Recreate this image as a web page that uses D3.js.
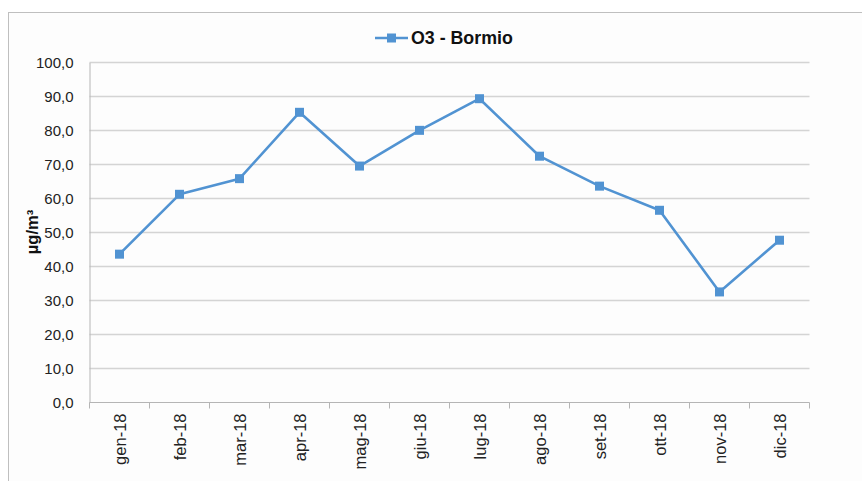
<!DOCTYPE html>
<html>
<head>
<meta charset="utf-8">
<script src="https://cdn.jsdelivr.net/npm/d3@7"></script>
<style>
  html, body { margin: 0; padding: 0; background: #ffffff; }
  svg { display: block; }
</style>
</head>
<body>
<svg id="chart" width="862" height="481"></svg>
<script>
// Monthly mean ozone, Bormio station, 2018
const months = ["gen-18", "feb-18", "mar-18", "apr-18", "mag-18", "giu-18",
                "lug-18", "ago-18", "set-18", "ott-18", "nov-18", "dic-18"];
const o3Bormio = [43.6, 61.2, 65.8, 85.3, 69.5, 80.0, 89.3, 72.4, 63.6, 56.5, 32.5, 47.7];
const yTicks = [0, 10, 20, 30, 40, 50, 60, 70, 80, 90, 100];
const seriesName = "O3 - Bormio";
const yTitle = "µg/m³";

const svg = d3.select("#chart");
const color = "#5193d2";
const font = "'Liberation Sans', Arial, sans-serif";

// chart frame
svg.append("rect")
  .attr("x", 8.5).attr("y", 12.5)
  .attr("width", 870).attr("height", 500)
  .attr("fill", "#fdfdfd")
  .attr("stroke", "#bfbfbf").attr("stroke-width", 1);

const plot = { left: 89.5, right: 809.5, top: 62.3, bottom: 402.5 };

const x = d3.scaleBand().domain(months).range([plot.left, plot.right]);
const y = d3.scaleLinear().domain([0, 100]).range([plot.bottom, plot.top]);

// horizontal gridlines
svg.append("g")
  .selectAll("line")
  .data(yTicks.filter(d => d > 0))
  .join("line")
  .attr("x1", plot.left).attr("x2", plot.right)
  .attr("y1", d => Math.round(y(d)) + 0.5).attr("y2", d => Math.round(y(d)) + 0.5)
  .attr("stroke", "#d4d4d4").attr("stroke-width", 1.3);

// y axis
const yAxis = svg.append("g")
  .attr("transform", `translate(${plot.left},0)`)
  .call(d3.axisLeft(y).tickValues(yTicks).tickSize(0).tickPadding(16)
    .tickFormat(d => d3.format(".1f")(d).replace(".", ",")));
yAxis.select(".domain").attr("stroke", "#b5b5b5").attr("stroke-width", 1);
yAxis.selectAll("text")
  .attr("font-family", font).attr("font-size", 15).attr("fill", "#222");

// x axis with ticks at category boundaries
const xAxisG = svg.append("g")
  .attr("transform", `translate(0,${plot.bottom})`);
xAxisG.append("line")
  .attr("x1", plot.left).attr("x2", plot.right)
  .attr("y1", 0).attr("y2", 0)
  .attr("stroke", "#b5b5b5");
xAxisG.selectAll("line.tick")
  .data(months.concat(["__end"]))
  .join("line")
  .attr("class", "tick")
  .attr("x1", (d, i) => plot.left + i * x.bandwidth())
  .attr("x2", (d, i) => plot.left + i * x.bandwidth())
  .attr("y1", 0).attr("y2", 6)
  .attr("stroke", "#b5b5b5");
xAxisG.selectAll("text")
  .data(months)
  .join("text")
  .attr("transform", d => `translate(${x(d) + x.bandwidth() / 2 + 6},11) rotate(-90)`)
  .attr("text-anchor", "end")
  .attr("font-family", font).attr("font-size", 16.5).attr("fill", "#222")
  .text(d => d);

// y axis title
svg.append("text")
  .attr("transform", "translate(38,232) rotate(-90)")
  .attr("text-anchor", "middle")
  .attr("font-family", font).attr("font-size", 16.5).attr("font-weight", "bold")
  .attr("fill", "#111")
  .text(yTitle);

// series line
const line = d3.line()
  .x((d, i) => x(months[i]) + x.bandwidth() / 2)
  .y(d => y(d));
svg.append("path")
  .datum(o3Bormio)
  .attr("d", line)
  .attr("fill", "none")
  .attr("stroke", color).attr("stroke-width", 2.6)
  .attr("stroke-linejoin", "round");

const m = 9;
svg.append("g")
  .selectAll("rect")
  .data(o3Bormio)
  .join("rect")
  .attr("x", (d, i) => x(months[i]) + x.bandwidth() / 2 - m / 2)
  .attr("y", d => y(d) - m / 2)
  .attr("width", m).attr("height", m)
  .attr("fill", color);

// legend
const lg = svg.append("g").attr("transform", "translate(375,38)");
lg.append("line").attr("x1", 0).attr("x2", 33).attr("y1", 0).attr("y2", 0)
  .attr("stroke", color).attr("stroke-width", 2.6);
lg.append("rect").attr("x", 16.5 - m / 2).attr("y", -m / 2)
  .attr("width", m).attr("height", m).attr("fill", color);
lg.append("text")
  .attr("x", 36).attr("y", 6)
  .attr("font-family", font).attr("font-size", 17.8).attr("font-weight", "bold")
  .attr("fill", "#111")
  .text(seriesName);
</script>
</body>
</html>
